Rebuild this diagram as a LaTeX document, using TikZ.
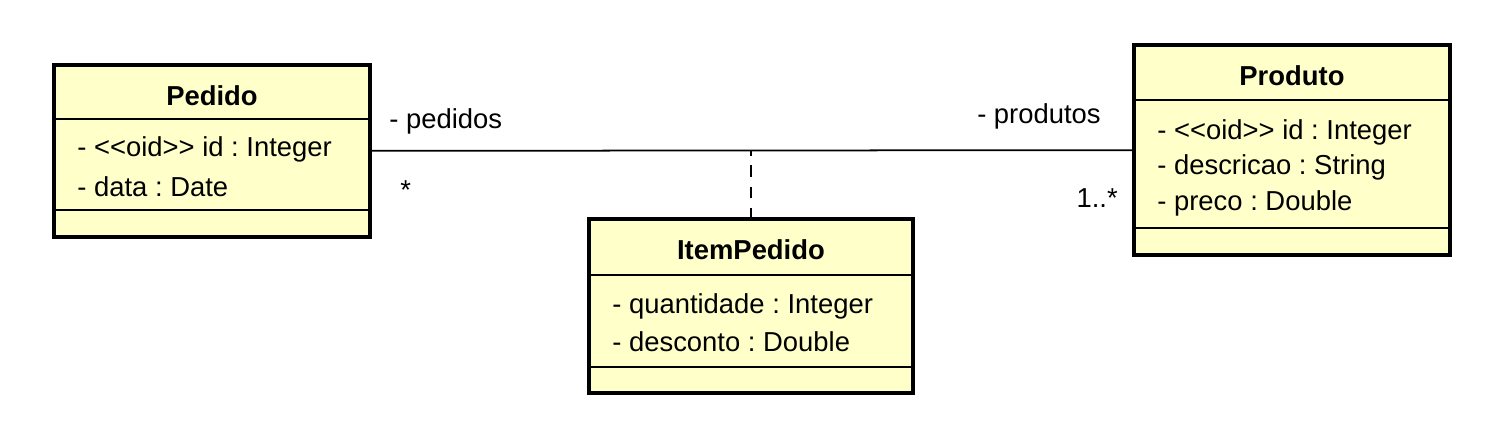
\documentclass[tikz,border=0pt]{standalone}
\usepackage{fontspec}
\setmainfont{Liberation Sans}
\frenchspacing
\definecolor{amarelo}{RGB}{255,255,202}

\begin{document}
\begin{tikzpicture}[x=0.02cm,y=-0.02cm,
    classe/.style={draw, line width=2.3pt, fill=amarelo, anchor=north west, inner sep=0pt, outer sep=0pt},
    divisao/.style={line width=0.8pt},
    titulo/.style={font=\bfseries\fontsize{15.6}{18}\selectfont},
    atrib/.style={anchor=west, inner sep=0pt, font=\fontsize{15.6}{18}\selectfont},
    assoc/.style={line width=1pt}]
    \useasboundingbox (0,0) rectangle (1500,427);

    % classes
    \node[classe, minimum width=6.32cm, minimum height=3.44cm] (pedido) at (54,65) {};
    \node[classe, minimum width=6.48cm, minimum height=3.48cm] (itempedido) at (589,219) {};
    \node[classe, minimum width=6.32cm, minimum height=4.2cm] (produto) at (1134,45) {};

    \draw[divisao] (pedido.west |- 0,119) -- (pedido.east |- 0,119);
    \draw[divisao] (pedido.west |- 0,210) -- (pedido.east |- 0,210);
    \draw[divisao] (itempedido.west |- 0,275) -- (itempedido.east |- 0,275);
    \draw[divisao] (itempedido.west |- 0,367) -- (itempedido.east |- 0,367);
    \draw[divisao] (produto.west |- 0,100) -- (produto.east |- 0,100);
    \draw[divisao] (produto.west |- 0,228) -- (produto.east |- 0,228);

    \node[titulo] (tpedido) at (pedido.north |- 0,96) {Pedido};
    \node[atrib] (idpedido) at (77,149) {- <{}<oid>{}> id : Integer};
    \node[atrib] (datapedido) at (77,187) {- data : Date};

    \node[titulo] (titempedido) at (itempedido.north |- 0,250) {ItemPedido};
    \node[atrib] (quantidade) at (612,306) {- quantidade : Integer};
    \node[atrib] (desconto) at (612,342) {- desconto : Double};

    \node[titulo] (tproduto) at (produto.north |- 0,76) {Produto};
    \node[atrib] (idproduto) at (1157,132) {- <{}<oid>{}> id : Integer};
    \node[atrib] (descricao) at (1157,167) {- descricao : String};
    \node[atrib] (preco) at (1157,203) {- preco : Double};

    % associacao
    \draw[assoc] (pedido) -- (produto);
    \draw[assoc, dash pattern=on 6.5pt off 5.5pt] (itempedido.north) -- (itempedido.north |- pedido.east);
    \node[atrib] (rpedidos) at (389,121) {- pedidos};
    \node[atrib] (mpedidos) at (400,190) {*};
    \node[atrib, anchor=east] (rprodutos) at (1101,116) {- produtos};
    \node[atrib, anchor=east] (mprodutos) at (1118,198) {1..*};
\end{tikzpicture}
\end{document}
